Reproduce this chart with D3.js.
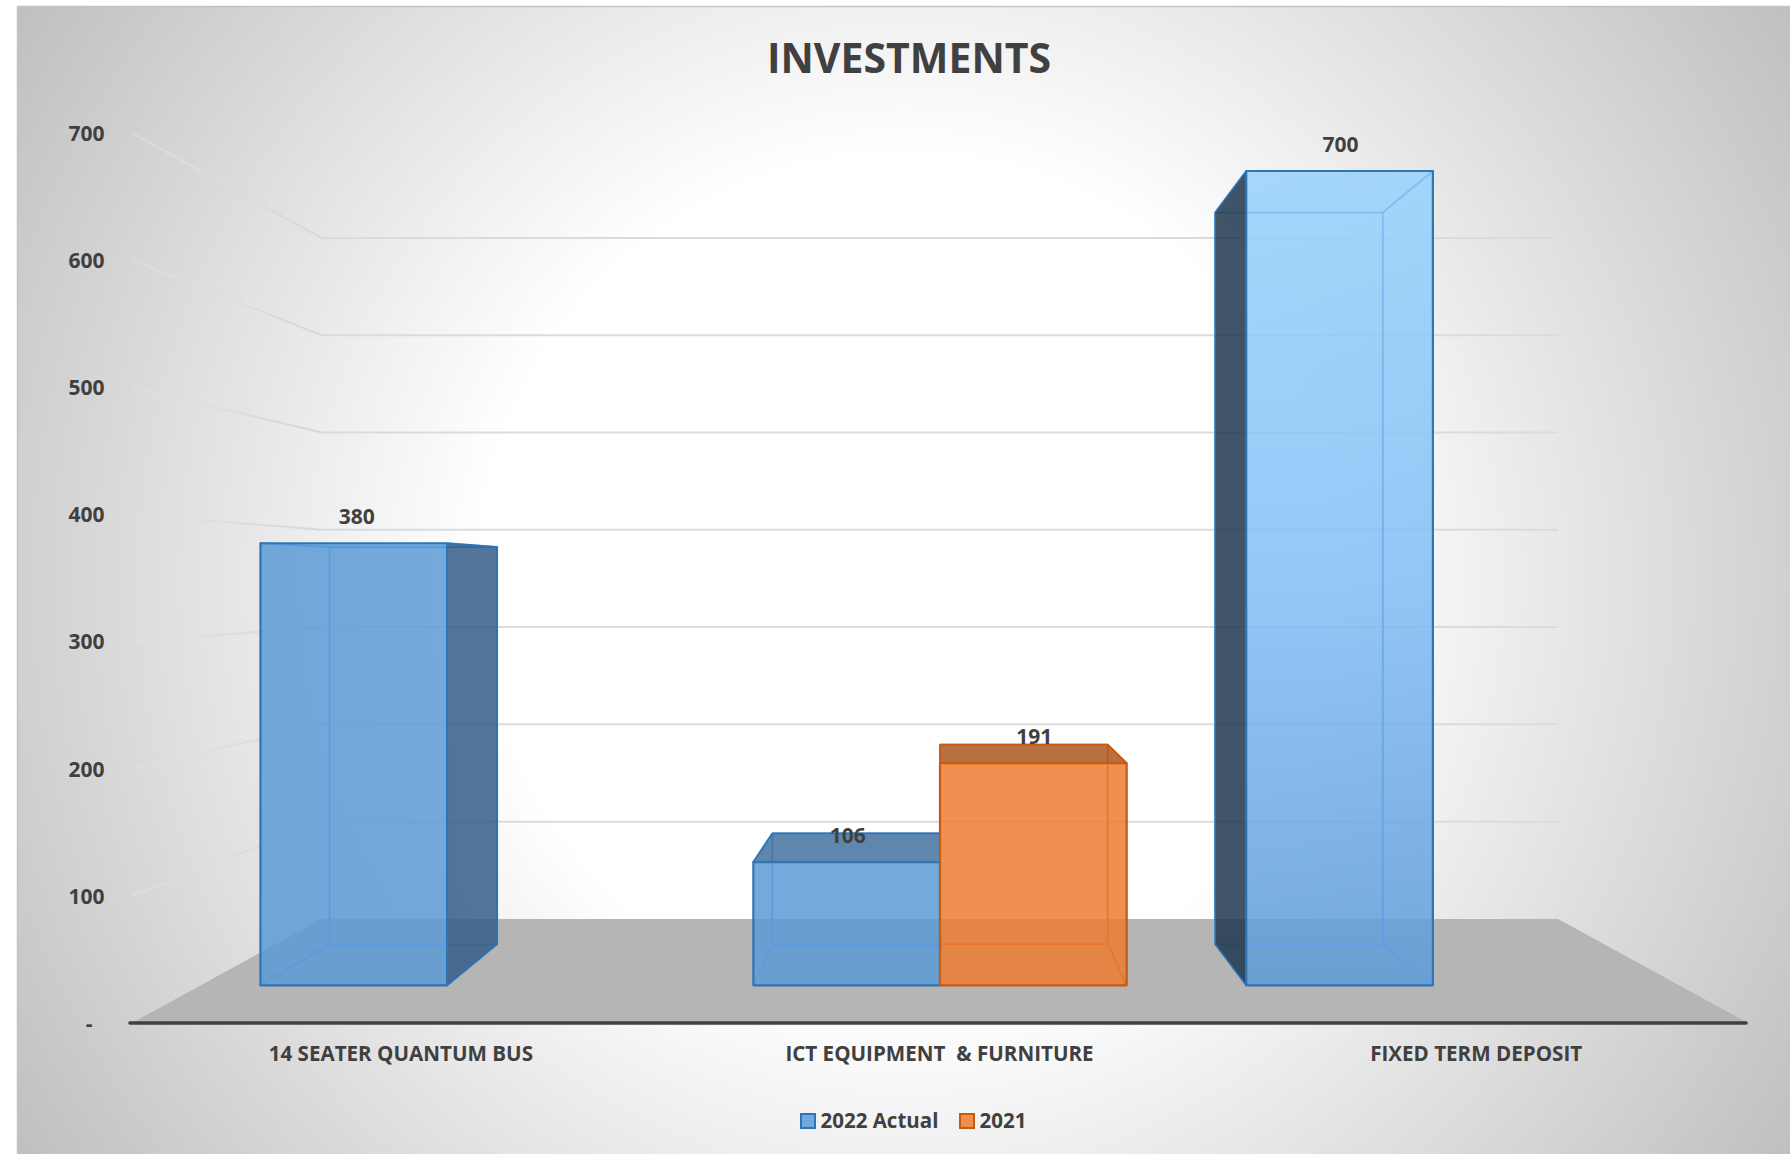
<!DOCTYPE html>
<html>
<head>
<meta charset="utf-8">
<script src="https://cdn.jsdelivr.net/npm/d3@7/dist/d3.min.js"></script>
<style>
html,body{margin:0;padding:0;background:#fff}
svg{display:block}
text{font-family:"Open Sans",sans-serif;font-weight:700;fill:#404040}
</style>
</head>
<body>
<div id="chart"></div>
<script>
// Values
const chartTitle = "INVESTMENTS";
const categories = ["14 SEATER QUANTUM BUS", "ICT EQUIPMENT  & FURNITURE", "FIXED TERM DEPOSIT"];
const seriesNames = ["2022 Actual", "2021"];
const actual2022 = [380, 106, 700];
const actual2021 = [null, 191, null];
const axisTicks = [0, 100, 200, 300, 400, 500, 600, 700];

const W = 1790, H = 1154;
const svg = d3.select("#chart").append("svg").attr("width", W).attr("height", H);
const defs = svg.append("defs");

// Front-plane scales; everything deeper is pulled toward the vanishing point
const x = d3.scaleBand().domain(categories).range([132, 1748]);
const y = d3.scaleLinear().domain([0, 700]).range([1023, 133]);
const vp = {x: 940, y: 580};
const DEPTH = {front: 1, back: 0.765, barFront: 0.915, barBack: 0.822};
const project = (px, py, s) => [vp.x + (px - vp.x) * s, vp.y + (py - vp.y) * s];
const path = pts => d3.line()(pts) + "Z";

// Panel background
const bg = defs.append("radialGradient").attr("id", "panelBg")
  .attr("gradientUnits", "userSpaceOnUse").attr("cx", 905).attr("cy", 580).attr("r", 1060);
bg.append("stop").attr("offset", 0.4).attr("stop-color", "#ffffff");
bg.append("stop").attr("offset", 1).attr("stop-color", "#bfbfbf");
svg.append("rect").attr("x", 17).attr("y", 6).attr("width", W - 17).attr("height", H - 6)
  .attr("fill", "url(#panelBg)");
svg.append("path").attr("d", `M17.5 ${H}V6.5H${W}`).attr("fill", "none").attr("stroke", "#c4c4c4").attr("stroke-width", 1.5);

// Gridlines: wall segments fade out toward the front of the floor
const [x0, x1] = x.range();
const wallFade = defs.append("linearGradient").attr("id", "wallFade")
  .attr("gradientUnits", "userSpaceOnUse")
  .attr("x1", x0).attr("x2", project(x0, 0, DEPTH.back)[0]).attr("y1", 0).attr("y2", 0);
wallFade.append("stop").attr("offset", 0).attr("stop-color", "#e2e2e2").attr("stop-opacity", 0.6);
wallFade.append("stop").attr("offset", 1).attr("stop-color", "#d6d6d6").attr("stop-opacity", 1);

const gridTicks = axisTicks.filter(d => d > 0);
const gridG = svg.append("g").attr("fill", "none").attr("stroke-width", 2);
gridG.selectAll("path.wall").data(gridTicks).join("path").attr("class", "wall")
  .attr("stroke", "url(#wallFade)")
  .attr("d", d => d3.line()([project(x0, y(d), DEPTH.front), project(x0, y(d), DEPTH.back)]));
gridG.selectAll("path.back").data(gridTicks).join("path").attr("class", "back")
  .attr("stroke", "#dbdbdb")
  .attr("d", d => d3.line()([project(x0, y(d), DEPTH.back), project(x1, y(d), DEPTH.back)]));

// Floor
svg.append("path").attr("fill", "#b5b5b5").attr("d", path([
  project(x0, y(0), DEPTH.front),
  project(x0, y(0), DEPTH.back),
  project(x1, y(0), DEPTH.back),
  project(x1, y(0), DEPTH.front)
]));

// Bar colours per series, with the deposit bar on its own lighter gradient
const depositFill = defs.append("linearGradient").attr("id", "depositFill")
  .attr("x1", 0).attr("y1", 0).attr("x2", 0).attr("y2", 1);
depositFill.append("stop").attr("offset", 0).attr("stop-color", "rgb(150,210,252)");
depositFill.append("stop").attr("offset", 0.5).attr("stop-color", "rgb(130,190,245)");
depositFill.append("stop").attr("offset", 1).attr("stop-color", "rgb(93,155,216)");

const depositInner = defs.append("linearGradient").attr("id", "depositInner")
  .attr("gradientUnits", "userSpaceOnUse").attr("x1", 0).attr("x2", 0)
  .attr("y1", project(0, y(700), DEPTH.barFront)[1])
  .attr("y2", project(0, y(0), DEPTH.barFront)[1]);
depositInner.append("stop").attr("offset", 0).attr("stop-color", "#80bef2");
depositInner.append("stop").attr("offset", 1).attr("stop-color", "#5c9de0");

const looks = {
  blue:    {front: "#5b9bd5", edge: "#2e75b6", inner: "#5a9ade", side: "rgb(53,93,135)", top: "rgb(67,113,159)"},
  orange:  {front: "#ed7d31", edge: "#c55a11", inner: "#e8762c", side: "rgb(173,87,30)", top: "rgb(173,87,30)"},
  deposit: {front: "url(#depositFill)", edge: "#2e75b6", inner: "url(#depositInner)", side: "rgb(32,55,78)", top: "rgb(32,55,78)"}
};

const sub = c => d3.scaleBand().domain(seriesNames)
  .range([x(c) + x.bandwidth() / 2 - 204, x(c) + x.bandwidth() / 2 + 204]);

const bars = categories.flatMap((c, i) => [
  {c, i, series: seriesNames[0], value: actual2022[i], look: i === 2 ? looks.deposit : looks.blue},
  {c, i, series: seriesNames[1], value: actual2021[i], look: looks.orange}
]).filter(b => b.value != null);

const barG = svg.append("g");
bars.forEach(b => {
  const s = sub(b.c);
  const L = s(b.series), R = L + s.bandwidth();
  const f = (px, py) => project(px, py, DEPTH.barFront);
  const k = (px, py) => project(px, py, DEPTH.barBack);
  const Y0 = y(0), Yv = y(b.value);
  const g = barG.append("g");
  const frontFace = path([f(L, Yv), f(R, Yv), f(R, Y0), f(L, Y0)]);

  g.append("path").attr("d", frontFace)
    .attr("fill", b.look.front).attr("fill-opacity", 0.85);

  // Hidden edges showing through the translucent box
  const innerLines = [
    [k(L, Yv), k(R, Yv), k(R, Y0), k(L, Y0), k(L, Yv)],
    [f(L, Y0), k(L, Y0)], [f(R, Y0), k(R, Y0)],
    [f(L, Yv), k(L, Yv)], [f(R, Yv), k(R, Yv)]
  ];
  innerLines.forEach(pts => g.append("path").attr("d", d3.line()(pts))
    .attr("fill", "none").attr("stroke", b.look.inner).attr("stroke-width", 1.8));

  // Outward faces that can be seen from the camera position
  const outer = [];
  if (k(L, Y0)[0] < f(L, Y0)[0] - 1) outer.push({pts: [f(L, Yv), k(L, Yv), k(L, Y0), f(L, Y0)], fill: b.look.side});
  if (k(R, Y0)[0] > f(R, Y0)[0] + 1) outer.push({pts: [f(R, Yv), k(R, Yv), k(R, Y0), f(R, Y0)], fill: b.look.side});
  if (k(L, Yv)[1] < f(L, Yv)[1]) outer.push({pts: [f(L, Yv), k(L, Yv), k(R, Yv), f(R, Yv)], fill: b.look.top});
  outer.forEach(o => g.append("path").attr("d", path(o.pts))
    .attr("fill", o.fill).attr("fill-opacity", 0.85)
    .attr("stroke", b.look.edge).attr("stroke-width", 1.5).attr("stroke-linejoin", "round"));

  g.append("path").attr("d", frontFace).attr("fill", "none")
    .attr("stroke", b.look.edge).attr("stroke-width", 2.2).attr("stroke-linejoin", "round");
});

// Value labels above each bar's front face
svg.append("g").selectAll("text").data(bars).join("text")
  .attr("text-anchor", "middle").attr("font-size", 21)
  .attr("x", b => { const s = sub(b.c); return project(s(b.series) + s.bandwidth() / 2, 0, DEPTH.barFront)[0] + (b.i === 0 ? 3 : 1); })
  .attr("y", b => project(0, y(b.value), DEPTH.barFront)[1] - 27)
  .attr("dy", "0.36em")
  .text(b => b.value);

// Value axis; the zero tick is a dash set in from the right edge
const yAxis = d3.axisLeft(y).tickValues(axisTicks).tickSize(0).tickPadding(0)
  .tickFormat(d => d === 0 ? "-" : d);
const yG = svg.append("g").attr("transform", "translate(104.5,0.6)").call(yAxis);
yG.select(".domain").remove();
yG.selectAll("text").attr("font-size", 21).style("font-family", "\"Open Sans\",sans-serif")
  .attr("dx", d => d === 0 ? -12 : 0);

// Category axis; the last label sits slightly left of its band centre
const xAxis = d3.axisBottom(x).tickSize(0).tickPadding(23);
const xG = svg.append("g").attr("transform", `translate(0,${y(0)})`).call(xAxis);
xG.select(".domain").attr("d", `M130,0H1746`).attr("stroke", "#404040").attr("stroke-width", 3.6).attr("stroke-linecap", "round");
xG.selectAll("text").attr("font-size", 20.6).style("font-family", "\"Open Sans\",sans-serif").style("white-space", "pre")
  .attr("dx", (d, i) => i === 2 ? -2.5 : -0.5);

// Title
svg.append("text").attr("x", 909).attr("y", 58).attr("dy", "0.36em")
  .attr("text-anchor", "middle").attr("font-size", 41).text(chartTitle);

// Legend
const legendX = [801, 960];
const legendLooks = [looks.blue, looks.orange];
const legend = svg.append("g").selectAll("g").data(seriesNames).join("g")
  .attr("transform", (d, i) => `translate(${legendX[i]},1114)`);
legend.append("rect").attr("width", 14).attr("height", 14)
  .attr("fill", (d, i) => legendLooks[i].front).attr("fill-opacity", 0.85)
  .attr("stroke", (d, i) => legendLooks[i].edge).attr("stroke-width", 2);
legend.append("text").attr("x", 19.5).attr("y", 7).attr("dy", "0.36em")
  .attr("font-size", 20.5).text(d => d);
</script>
</body>
</html>
